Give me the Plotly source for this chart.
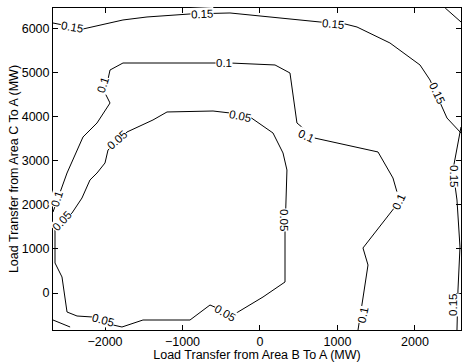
import plotly.graph_objects as go

# Contour lines (x: MW from B to A, y: MW from C to A)
c015_top_x = [-2671, -2284, -1768, -1458, -903, -555, -387, 774, 1097, 1252, 1677, 2065, 2194, 2413, 2594]
c015_top_y = [6136, 6000, 6205, 6273, 6341, 6364, 6364, 6159, 6114, 6045, 5682, 5182, 4841, 3977, 3636]

c015_right_x = [2594, 2542, 2490, 2542, 2581, 2555, 2542]
c015_right_y = [3773, 3318, 2795, 2114, 1045, 68, -841]

c015_corner_x = [2390, 2594]
c015_corner_y = [6477, 6159]

c010_x = [-2671, -2555, -2516, -2490, -2284, -2103, -1935, -2000, -1935, -1768, -555, -387, 194, 387, 477, 710,
          1523, 1716, 1768, 1742, 1329, 1394, 1329, 1265, 1265]
c010_y = [1841, 2386, 2568, 2727, 3545, 3864, 4318, 4545, 5068, 5227, 5227, 5227, 5182, 5000, 3864, 3520,
          3205, 2614, 2295, 1955, 1023, 636, -114, -773, -841]

c005_x = [-1961, -1716, -1381, -1200, -606, -387, -129, 168, 297, 348, 323, 323, 39, -348, -645, -903, -1510,
          -1781, -1897, -2168, -2361, -2490, -2555, -2645, -2645, -2426, -2297, -2194, -2103, -2000, -1961]
c005_y = [3250, 3659, 3932, 4114, 4136, 4091, 4000, 3636, 3182, 2795, 1364, 250, -91, -500, -273, -614, -614,
          -773, -727, -545, -523, -432, 364, 682, 1432, 1818, 2159, 2568, 2727, 2955, 3250]

corner_bl_x = [-2671, -2450]
corner_bl_y = [-614, -773]

# Contour labels: text, x, y, rotation
label_text = ["0.15", "0.15", "0.15", "0.15", "0.15", "0.15",
              "0.1", "0.1", "0.1", "0.1", "0.1", "0.1",
              "0.05", "0.05", "0.05", "0.05", "0.05", "0.05"]
label_x = [-2426, -748, 942, 2284, 2503, 2490,
           -2620, -2026, -465, 594, 1800, 1329,
           -1845, -258, 310, -452, -2026, -2555]
label_y = [6045, 6341, 6114, 4545, 2659, -273,
           2136, 4727, 5227, 3560, 2080, -500,
           3477, 4023, 1659, -455, -614, 1636]
label_angle = [10, -2, 5, 65, 90, -90,
               -72, -72, 0, 25, -65, -78,
               -42, 12, 90, 30, 15, -48]

x_range = [-2671, 2594]
y_range = [-841, 6477]
x_ticks = [-2000, -1000, 0, 1000, 2000]
y_ticks = [0, 1000, 2000, 3000, 4000, 5000, 6000]

FONT = "Liberation Sans, Arial"

fig = go.Figure()
line_style = dict(color="black", width=1)
for xs, ys in [(c015_top_x, c015_top_y), (c015_right_x, c015_right_y), (c015_corner_x, c015_corner_y),
               (c010_x, c010_y), (c005_x, c005_y), (corner_bl_x, corner_bl_y)]:
    fig.add_trace(go.Scatter(x=xs, y=ys, mode="lines", line=line_style, showlegend=False, hoverinfo="skip"))

for t, x, y, a in zip(label_text, label_x, label_y, label_angle):
    fig.add_annotation(x=x, y=y, text=t, textangle=a, showarrow=False, bgcolor="white", borderpad=0,
                       font=dict(family=FONT, size=11.5, color="black"))

axis_common = dict(showgrid=False, zeroline=False, showline=True, linecolor="black", linewidth=1,
                   mirror="ticks", ticks="inside", ticklen=5, tickcolor="black", automargin=False,
                   tickfont=dict(family=FONT, size=12.5, color="black"))

fig.update_xaxes(range=x_range, tickvals=x_ticks, **axis_common,
                 title=dict(text="Load Transfer from Area B To A (MW)", standoff=0,
                            font=dict(family=FONT, size=12.5, color="black")))
fig.update_yaxes(range=y_range, tickvals=y_ticks, **axis_common,
                 title=dict(text="Load Transfer from Area C To A (MW)", standoff=0,
                            font=dict(family=FONT, size=12.5, color="black")))

fig.update_layout(width=463, height=362, margin=dict(l=53, r=2, t=8, b=32, autoexpand=False),
                  plot_bgcolor="white", paper_bgcolor="white")

fig.write_html("out.html", config={"displayModeBar": False},
               post_script="document.body.style.margin='0';document.body.style.overflow='hidden';")
